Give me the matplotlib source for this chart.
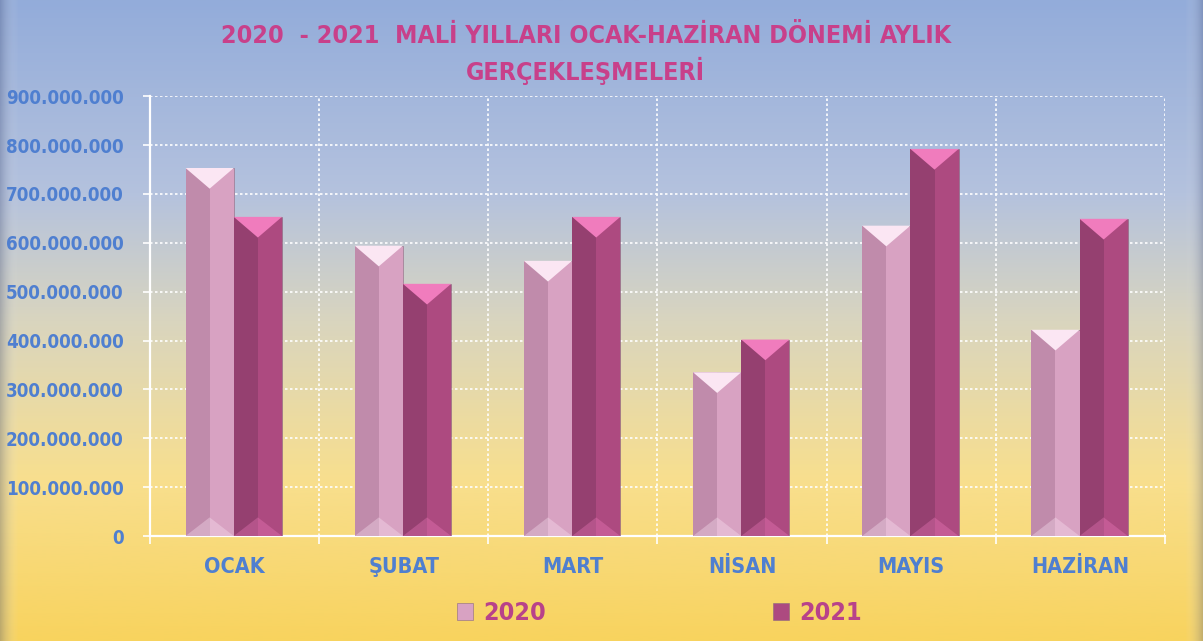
import matplotlib
matplotlib.use("Agg")
import matplotlib.pyplot as plt
import numpy as np
from matplotlib.colors import LinearSegmentedColormap
from matplotlib.patches import Polygon, Rectangle
from matplotlib.ticker import FuncFormatter, MultipleLocator

plt.rcParams["font.family"] = ["DejaVu Sans"]
plt.rcParams["font.stretch"] = "condensed"

months = ["OCAK", "ŞUBAT", "MART", "NİSAN", "MAYIS", "HAZİRAN"]
values_2020 = [753e6, 594e6, 563e6, 335e6, 635e6, 422e6]
values_2021 = [653e6, 516e6, 653e6, 402e6, 792e6, 649e6]
title = "2020  - 2021  MALİ YILLARI OCAK-HAZİRAN DÖNEMİ AYLIK\nGERÇEKLEŞMELERİ"

BLUE_TXT = "#4f7fd0"
TITLE_C = "#c8408a"
# (main face, left face, top/bottom facet)
STYLE_2020 = ("#d8a2c2", "#c08bab", "#fbe6f3")
STYLE_2021 = ("#ad4a80", "#954070", "#f07cbd")

fig = plt.figure(figsize=(12.03, 6.41), dpi=100)

# background gradient: blue on top to yellow at bottom
bg = fig.add_axes([0, 0, 1, 1], zorder=-10)
cmap = LinearSegmentedColormap.from_list(
    "bg", [(0, "#f8d35e"), (0.25, "#f8df8e"), (0.5, "#d9d5bf"), (0.7, "#b4c2de"), (1, "#93acda")])
grad = np.linspace(0, 1, 256).reshape(-1, 1)
bg.imshow(grad, aspect="auto", cmap=cmap, origin="lower", extent=[0, 1, 0, 1])
# darker bevel edges of the frame
side = np.linspace(0, 1, 64).reshape(1, -1)
bg.imshow(side, aspect="auto", cmap=LinearSegmentedColormap.from_list(
    "l", [(0, (0.3, 0.35, 0.5, 0.35)), (1, (1, 1, 1, 0))]), extent=[0, 0.015, 0, 1])
bg.imshow(side, aspect="auto", cmap=LinearSegmentedColormap.from_list(
    "r", [(0, (1, 1, 1, 0)), (1, (0.3, 0.35, 0.5, 0.35))]), extent=[0.985, 1, 0, 1])
bg.set_xlim(0, 1)
bg.set_ylim(0, 1)
bg.axis("off")

ax = fig.add_axes([0.1247, 0.1638, 0.8437, 0.6862])
ax.set_facecolor("none")

x = np.arange(len(months))
w = 0.285
ymax = 900e6
depth = 0.047 * ymax  # bevel facet depth in data units


def bevel_bars(xs, vals, style, z):
    main, left, facet = style
    bars = ax.bar(xs, vals, width=w, color=main, edgecolor="#8a6a80",
                  linewidth=0.4, zorder=z)
    for b in bars:
        x0, x1 = b.get_x(), b.get_x() + b.get_width()
        xm = (x0 + x1) / 2
        h = b.get_height()
        ax.add_patch(Rectangle((x0, 0), xm - x0, h, color=left, zorder=z + 0.1, lw=0))
        ax.add_patch(Polygon([(x0, h), (x1, h), (xm, h - depth)], closed=True,
                             color=facet, zorder=z + 0.2, lw=0))
        ax.add_patch(Polygon([(x0, 0), (x1, 0), (xm, depth * 0.9)], closed=True,
                             color=facet, alpha=0.35, zorder=z + 0.2, lw=0))
    return bars


b1 = bevel_bars(x - w / 2 - 0.005, values_2020, STYLE_2020, 3)
b2 = bevel_bars(x + w / 2 - 0.005, values_2021, STYLE_2021, 4)

ax.set_xlim(-0.5, len(months) - 0.5)
ax.set_ylim(0, ymax)
ax.yaxis.set_major_locator(MultipleLocator(100e6))
ax.yaxis.set_major_formatter(FuncFormatter(lambda v, p: f"{int(v):,}".replace(",", ".")))
ax.set_xticks(x)
ax.set_xticklabels(months)
ax.set_xticks(np.arange(len(months) + 1) - 0.5, minor=True)

ax.grid(axis="y", color="white", linestyle=(0, (1.5, 1.5)), linewidth=1.2, zorder=1)
ax.grid(axis="x", which="minor", color="white", linestyle=(0, (1.5, 1.5)),
        linewidth=1.2, zorder=1)
ax.set_axisbelow(True)

for s in ["top", "right"]:
    ax.spines[s].set_visible(False)
for s in ["left", "bottom"]:
    ax.spines[s].set_color("white")
    ax.spines[s].set_linewidth(1.6)

ax.tick_params(axis="y", colors="white", labelcolor=BLUE_TXT, labelsize=13.5,
               length=5, width=1.2, pad=14)
ax.tick_params(axis="x", which="major", length=0, labelcolor=BLUE_TXT,
               labelsize=15.5, pad=15)
ax.tick_params(axis="x", which="minor", colors="white", length=6, width=1.2)
for lab in ax.get_yticklabels() + ax.get_xticklabels():
    lab.set_fontweight("bold")

fig.text(0.487, 0.915, title, ha="center", va="center", color=TITLE_C,
         fontsize=18, fontweight="bold", linespacing=1.4)

leg = fig.legend([b1[0], b2[0]], ["2020", "2021"], loc="center",
                 bbox_to_anchor=(0.548, 0.043), ncol=2, frameon=False,
                 columnspacing=9.1, handlelength=0.65, handleheight=0.65,
                 handletextpad=0.4, prop={"size": 18, "weight": "bold", "stretch": "condensed"})
for t in leg.get_texts():
    t.set_color("#b8428a")

fig.savefig("out.png", dpi=100)
